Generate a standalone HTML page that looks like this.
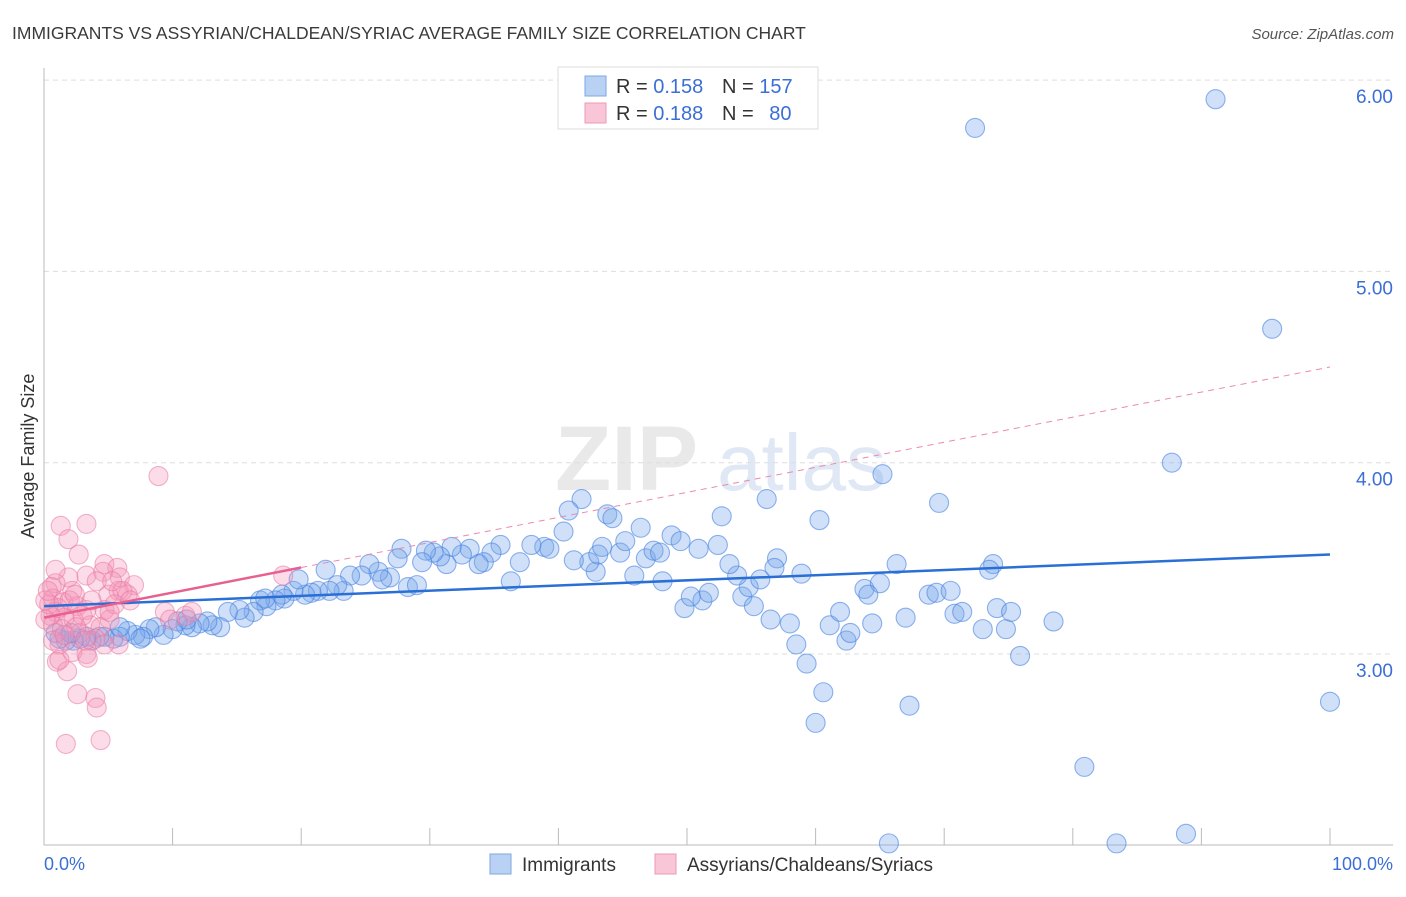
<!DOCTYPE html>
<html><head><meta charset="utf-8"><style>
body{margin:0;background:#fff;font-family:"Liberation Sans",sans-serif;}
svg text{font-family:"Liberation Sans",sans-serif;}
</style></head><body>
<svg id="chart" width="1406" height="892" xmlns="http://www.w3.org/2000/svg">
<text x="12" y="39" font-size="17.5" fill="#3a3a3a">IMMIGRANTS VS ASSYRIAN/CHALDEAN/SYRIAC AVERAGE FAMILY SIZE CORRELATION CHART</text>
<text x="1394" y="39" font-size="15" fill="#555" text-anchor="end" font-style="italic">Source: ZipAtlas.com</text>
<g><text x="555" y="490" font-size="92" fill="#e9e9e9" font-family="Liberation Serif" font-weight="bold">ZIP</text><text x="717" y="490" font-size="80" fill="#dfe8f4">atlas</text></g>
<g id="grid"></g>
<g id="axes"></g>
<g id="points"></g>
<g id="trends"></g>
<text transform="translate(34,456) rotate(-90)" font-size="18" fill="#333" text-anchor="middle">Average Family Size</text>
<g>
<rect x="558" y="67" width="260" height="62" fill="#fff" stroke="#ddd"/>
<rect x="585" y="76" width="21" height="20" fill="#b9d1f3" stroke="#7ea6e6"/>
<rect x="585" y="103" width="21" height="20" fill="#f8c6d6" stroke="#ec9ab6"/>
<text x="616" y="93" font-size="20" fill="#333">R = <tspan fill="#3b6fd6">0.158</tspan></text>
<text x="722" y="93" font-size="20" fill="#333">N = <tspan fill="#3b6fd6">157</tspan></text>
<text x="616" y="120" font-size="20" fill="#333">R = <tspan fill="#3b6fd6">0.188</tspan></text>
<text x="722" y="120" font-size="20" fill="#333">N = <tspan fill="#3b6fd6" dx="10">80</tspan></text>
</g>
<g><rect x="490" y="854" width="21" height="20" fill="#b9d1f3" stroke="#7ea6e6"/><text x="522" y="871" font-size="19" fill="#333">Immigrants</text></g>
<g><rect x="655" y="854" width="21" height="20" fill="#f8c6d6" stroke="#ec9ab6"/><text x="687" y="871" font-size="19" fill="#333">Assyrians/Chaldeans/Syriacs</text></g>
<text x="44" y="870" font-size="18" fill="#3b6fd6">0.0%</text>
<text x="1393" y="870" font-size="18" fill="#3b6fd6" text-anchor="end">100.0%</text>
</svg>
<script>
const yTicks=[3,4,5,6];
const yTickLabels=["3.00","4.00","5.00","6.00"];
const xTicks=[0,10,20,30,40,50,60,70,80,90,100];
const blueX=[91.1,72.4,95.5,87.7,65.2,69.6,56.2,60.3,52.7,41.8,40.8,43.8,44.2,46.4,48.8,49.5,50.9,52.4,57.0,100,80.9,88.8,83.4,65.7,60.0,60.6,67.3,59.3,58.5,75.9,62.4,62.7,61.1,64.4,58.0,67.0,70.8,71.4,73.0,74.8,74.1,75.2,78.5,61.9,49.8,51.2,50.3,51.7,54.3,55.2,54.8,55.7,53.9,53.3,56.8,58.9,63.8,65.0,64.1,66.3,68.8,69.4,70.5,73.8,73.5,48.1,45.9,42.9,42.4,41.2,43.1,44.8,45.2,43.4,46.8,47.4,47.9,40.4,38.9,39.3,37.9,37.0,36.3,35.5,34.8,34.2,33.8,33.1,32.5,31.7,31.3,30.8,30.3,29.7,29.4,28.3,29.0,27.8,27.5,26.9,26.0,26.3,25.3,24.7,23.8,23.3,22.8,22.2,21.9,21.3,20.8,20.3,19.4,18.7,18.5,18.0,17.3,16.8,16.3,15.6,15.2,14.3,13.7,13.1,12.7,12.1,11.5,11.0,10.4,10.0,9.3,8.7,8.2,7.7,7.1,6.5,5.9,5.4,4.7,4.3,3.7,3.3,2.8,2.3,1.7,1.2,0.9,2.1,5.9,7.5,11.1,17.2,19.8,56.5];
const blueY=[5.90,5.75,4.70,4.00,3.94,3.79,3.81,3.70,3.72,3.81,3.75,3.73,3.71,3.66,3.62,3.59,3.55,3.57,3.50,2.75,2.41,2.06,2.01,2.01,2.64,2.80,2.73,2.95,3.05,2.99,3.07,3.11,3.15,3.16,3.16,3.19,3.21,3.22,3.13,3.13,3.24,3.22,3.17,3.22,3.24,3.28,3.30,3.32,3.30,3.25,3.35,3.39,3.41,3.47,3.45,3.42,3.34,3.37,3.31,3.47,3.31,3.32,3.33,3.47,3.44,3.38,3.41,3.43,3.48,3.49,3.52,3.53,3.59,3.56,3.50,3.54,3.53,3.64,3.56,3.55,3.57,3.48,3.38,3.57,3.53,3.48,3.47,3.55,3.52,3.56,3.47,3.51,3.53,3.54,3.48,3.35,3.36,3.55,3.50,3.40,3.43,3.39,3.47,3.41,3.41,3.33,3.36,3.33,3.44,3.33,3.32,3.31,3.33,3.29,3.31,3.28,3.25,3.28,3.22,3.19,3.23,3.22,3.14,3.15,3.17,3.16,3.14,3.15,3.17,3.13,3.10,3.14,3.13,3.09,3.10,3.12,3.09,3.08,3.09,3.09,3.07,3.09,3.08,3.07,3.07,3.08,3.11,3.11,3.14,3.08,3.18,3.29,3.39,3.18];
const pinkX=[8.9,1.3,3.3,1.9,2.7,4.7,5.7,3.3,4.6,1.9,0.9,0.6,2.2,5.9,7.0,5.8,5.0,6.5,0.7,1.5,2.6,3.3,4.7,0.9,1.6,2.3,3.6,4.4,0.7,1.4,2.8,4.0,5.8,1.2,2.2,3.3,1.0,1.8,2.6,4.0,4.1,1.7,4.4,9.4,11.0,11.5,9.8,18.6,2.0,1.1,0.5,0.1,0.4,3.0,5.1,2.5,4.7,6.1,5.5,3.7,1.2,3.4,0.7,3.2,1.6,5.1,6.7,0.1,0.3,0.9,2.4,4.1,5.3];
const pinkY=[3.93,3.67,3.68,3.60,3.52,3.47,3.45,3.41,3.43,3.40,3.37,3.35,3.33,3.40,3.36,3.33,3.31,3.31,3.29,3.27,3.25,3.23,3.23,3.22,3.19,3.18,3.15,3.14,3.15,3.13,3.11,3.08,3.05,3.05,3.01,3.00,2.96,2.91,2.79,2.77,2.72,2.53,2.55,3.22,3.20,3.22,3.18,3.41,3.28,3.24,3.20,3.18,3.26,3.20,3.18,3.14,3.05,3.33,3.26,3.28,2.97,2.98,3.07,3.07,3.10,3.22,3.28,3.28,3.33,3.44,3.31,3.38,3.38];
const blueTrend=[3.25,3.52];
const pinkTrend=[3.19,4.50];
const pinkSolidEnd=20;

const NS="http://www.w3.org/2000/svg";
const xs=v=>44+v*12.86;
const ys=v=>654-(v-3)*191.3;
function mk(tag,attrs,parent){const e=document.createElementNS(NS,tag);for(const k in attrs)e.setAttribute(k,attrs[k]);parent.appendChild(e);return e;}
const grid=document.getElementById('grid'),axes=document.getElementById('axes'),pts=document.getElementById('points'),tr=document.getElementById('trends');
yTicks.forEach((t,i)=>{
  const l=mk('line',{x1:44,x2:1393,y1:ys(t),y2:ys(t),stroke:'#ddd','stroke-dasharray':'5,4'},grid);
  
  
  const tx=mk('text',{x:1393,y:ys(t)+23,'font-size':19,fill:'#3b6fd6','text-anchor':'end'},grid);
  tx.textContent=yTickLabels[i];
  
  
});
const ya=mk('line',{x1:44,x2:44,y1:68,y2:845,stroke:'#bbb'},axes);


const xa=mk('line',{x1:44,x2:1393,y1:845,y2:845,stroke:'#bbb'},axes);


xTicks.forEach(t=>{
  const l=mk('line',{x1:xs(t),x2:xs(t),y1:828,y2:845,stroke:'#bbb'},axes);
  
  
});
blueX.forEach((x,i)=>{
  const c=mk('circle',{cx:xs(x),cy:ys(blueY[i]),r:9.5,fill:'rgba(120,165,235,0.35)',stroke:'rgba(70,130,225,0.6)','stroke-width':1.1},pts);
  
  
});
pinkX.forEach((x,i)=>{
  const c=mk('circle',{cx:xs(x),cy:ys(pinkY[i]),r:9.5,fill:'rgba(245,150,185,0.33)',stroke:'rgba(232,120,160,0.55)','stroke-width':1.1},pts);
  
  
});
const bt=mk('line',{x1:xs(0),y1:ys(blueTrend[0]),x2:xs(100),y2:ys(blueTrend[1]),stroke:'#2a6fd6','stroke-width':2.5},tr);


const pAt=x=>pinkTrend[0]+(pinkTrend[1]-pinkTrend[0])*x/100;
const pd=mk('line',{x1:xs(pinkSolidEnd),y1:ys(pAt(pinkSolidEnd)),x2:xs(100),y2:ys(pinkTrend[1]),stroke:'#e98ab0','stroke-width':1,'stroke-dasharray':'6,5'},tr);


const ps=mk('line',{x1:xs(0),y1:ys(pinkTrend[0]),x2:xs(pinkSolidEnd),y2:ys(pAt(pinkSolidEnd)),stroke:'#e8608f','stroke-width':2.5},tr);


</script>
</body></html>
